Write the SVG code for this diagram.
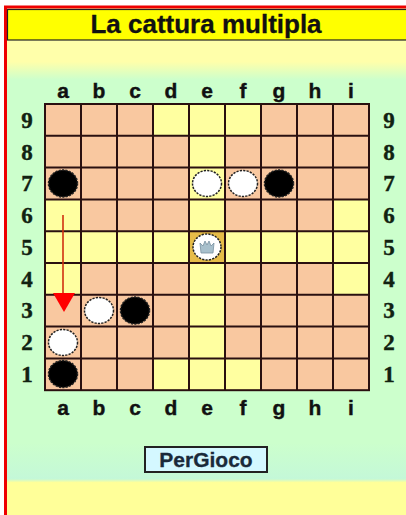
<svg xmlns="http://www.w3.org/2000/svg" width="406" height="515" viewBox="0 0 406 515">
<defs>
<linearGradient id="bg" x1="0" y1="0" x2="0" y2="515" gradientUnits="userSpaceOnUse">
<stop offset="0" stop-color="#ffffaa"/>
<stop offset="0.12" stop-color="#ffffaa"/>
<stop offset="0.155" stop-color="#ccffcc"/>
<stop offset="0.86" stop-color="#ccffcc"/>
<stop offset="0.93" stop-color="#c4f8d8"/>
<stop offset="0.937" stop-color="#ffff99"/>
<stop offset="1" stop-color="#ffff99"/>
</linearGradient>
<style>
.s{fill:#f9c8a0}
.y{fill:#ffffa0}
.t{fill:#e6bc48}
.grid{stroke:#2a1010;stroke-width:2;fill:none}
.lab{font-family:"Liberation Sans",Arial,sans-serif;font-weight:bold;font-size:21px;fill:#111;stroke:#111;stroke-width:0.4;text-anchor:middle}
.num{font-family:"Liberation Serif","Times New Roman",serif;font-weight:bold;font-size:23px;fill:#112211;stroke:#112211;stroke-width:0.4;text-anchor:middle}
.w{fill:#ffffff;stroke:#222;stroke-width:1.5;stroke-dasharray:2.2 1.2}
.b{fill:#000000;stroke:#222;stroke-width:1.5;stroke-dasharray:2.2 1.2}
</style>
</defs>
<rect x="0" y="0" width="406" height="515" fill="#ffffff"/>
<rect x="5" y="7" width="420" height="520" fill="url(#bg)"/>
<path d="M5.5,530 V7 H420" fill="none" stroke="#ee0000" stroke-width="3"/>
<g id="title">
<rect x="7.5" y="9.5" width="410" height="30.5" fill="#ffff00" stroke="#222" stroke-width="1.2"/>
<text x="206" y="33" font-family="Liberation Sans,Arial,sans-serif" font-weight="bold" font-size="26" fill="#111" stroke="#111" stroke-width="0.3" text-anchor="middle">La cattura multipla</text>
</g>
<g id="board">
<g id="cells">
<rect class="s" x="45" y="104" width="108" height="31.8"/><rect class="y" x="153" y="104" width="108" height="31.8"/><rect class="s" x="261" y="104" width="108" height="31.8"/>
<rect class="s" x="45" y="135.8" width="144" height="31.8"/><rect class="y" x="189" y="135.8" width="36" height="31.8"/><rect class="s" x="225" y="135.8" width="144" height="31.8"/>
<rect class="s" x="45" y="167.6" width="144" height="31.8"/><rect class="y" x="189" y="167.6" width="36" height="31.8"/><rect class="s" x="225" y="167.6" width="144" height="31.8"/>
<rect class="y" x="45" y="199.4" width="36" height="31.8"/><rect class="s" x="81" y="199.4" width="108" height="31.8"/><rect class="y" x="189" y="199.4" width="36" height="31.8"/><rect class="s" x="225" y="199.4" width="108" height="31.8"/><rect class="y" x="333" y="199.4" width="36" height="31.8"/>
<rect class="y" x="45" y="231.2" width="324" height="31.8"/><rect class="t" x="189" y="231.2" width="36" height="31.8"/>
<rect class="y" x="45" y="263" width="36" height="31.8"/><rect class="s" x="81" y="263" width="108" height="31.8"/><rect class="y" x="189" y="263" width="36" height="31.8"/><rect class="s" x="225" y="263" width="108" height="31.8"/><rect class="y" x="333" y="263" width="36" height="31.8"/>
<rect class="s" x="45" y="294.8" width="144" height="31.8"/><rect class="y" x="189" y="294.8" width="36" height="31.8"/><rect class="s" x="225" y="294.8" width="144" height="31.8"/>
<rect class="s" x="45" y="326.6" width="144" height="31.8"/><rect class="y" x="189" y="326.6" width="36" height="31.8"/><rect class="s" x="225" y="326.6" width="144" height="31.8"/>
<rect class="s" x="45" y="358.4" width="108" height="31.8"/><rect class="y" x="153" y="358.4" width="108" height="31.8"/><rect class="s" x="261" y="358.4" width="108" height="31.8"/>
</g>
<path class="grid" d="M81,104V390.2M117,104V390.2M153,104V390.2M189,104V390.2M225,104V390.2M261,104V390.2M297,104V390.2M333,104V390.2M45,135.8H369M45,167.6H369M45,199.4H369M45,231.2H369M45,263H369M45,294.8H369M45,326.6H369M45,358.4H369"/>
<rect class="grid" x="45" y="104" width="324" height="286.2"/>
</g>
<g id="labels">
<g class="lab">
<text x="63" y="98">a</text><text x="99" y="98">b</text><text x="135" y="98">c</text><text x="171" y="98">d</text><text x="207" y="98">e</text><text x="243" y="98">f</text><text x="279" y="98">g</text><text x="315" y="98">h</text><text x="351" y="98">i</text>
<text x="63" y="415">a</text><text x="99" y="415">b</text><text x="135" y="415">c</text><text x="171" y="415">d</text><text x="207" y="415">e</text><text x="243" y="415">f</text><text x="279" y="415">g</text><text x="315" y="415">h</text><text x="351" y="415">i</text>
</g>
<g class="num">
<text x="27" y="128">9</text><text x="27" y="160">8</text><text x="27" y="191">7</text><text x="27" y="223">6</text><text x="27" y="255">5</text><text x="27" y="287">4</text><text x="27" y="318">3</text><text x="27" y="350">2</text><text x="27" y="382">1</text>
<text x="389" y="128">9</text><text x="389" y="160">8</text><text x="389" y="191">7</text><text x="389" y="223">6</text><text x="389" y="255">5</text><text x="389" y="287">4</text><text x="389" y="318">3</text><text x="389" y="350">2</text><text x="389" y="382">1</text>
</g>
</g>
<g id="pieces">
<ellipse id="a7" class="b" cx="63" cy="183.5" rx="14.5" ry="13.5"/>
<ellipse id="e7" class="w" cx="207" cy="183.5" rx="14.5" ry="13"/>
<ellipse id="f7" class="w" cx="243" cy="183.5" rx="14.5" ry="13"/>
<ellipse id="g7" class="b" cx="279" cy="183.5" rx="14.5" ry="13.5"/>
<g id="king">
<ellipse class="w" cx="207" cy="247" rx="14" ry="13"/>
<path d="M201,253 L200,243 L203,246 L205,241 L207,245 L209,241 L211,246 L214,243 L213,253 Z" fill="#a8c0cc" stroke="#7890a0" stroke-width="0.8"/>
</g>
<ellipse id="b3" class="w" cx="99" cy="310.5" rx="14.5" ry="13"/>
<ellipse id="c3" class="b" cx="135" cy="310.5" rx="14.5" ry="13.5"/>
<ellipse id="a2" class="w" cx="63" cy="342.5" rx="14.5" ry="13"/>
<ellipse id="a1" class="b" cx="63" cy="374" rx="14.5" ry="13.5"/>
</g>
<g id="connectors">
<line x1="63" y1="215" x2="63" y2="295" stroke="#d03010" stroke-width="1.6"/>
<polygon points="53,293 75,293 64,312" fill="#ff0000"/>
</g>
<g id="button">
<rect x="145" y="447" width="122" height="25" fill="#d4f8ff" stroke="#222" stroke-width="2"/>
<text x="206" y="467" font-family="Liberation Sans,Arial,sans-serif" font-weight="bold" font-size="21" fill="#1a2a3a" stroke="#1a2a3a" stroke-width="0.3" text-anchor="middle">PerGioco</text>
</g>
</svg>
